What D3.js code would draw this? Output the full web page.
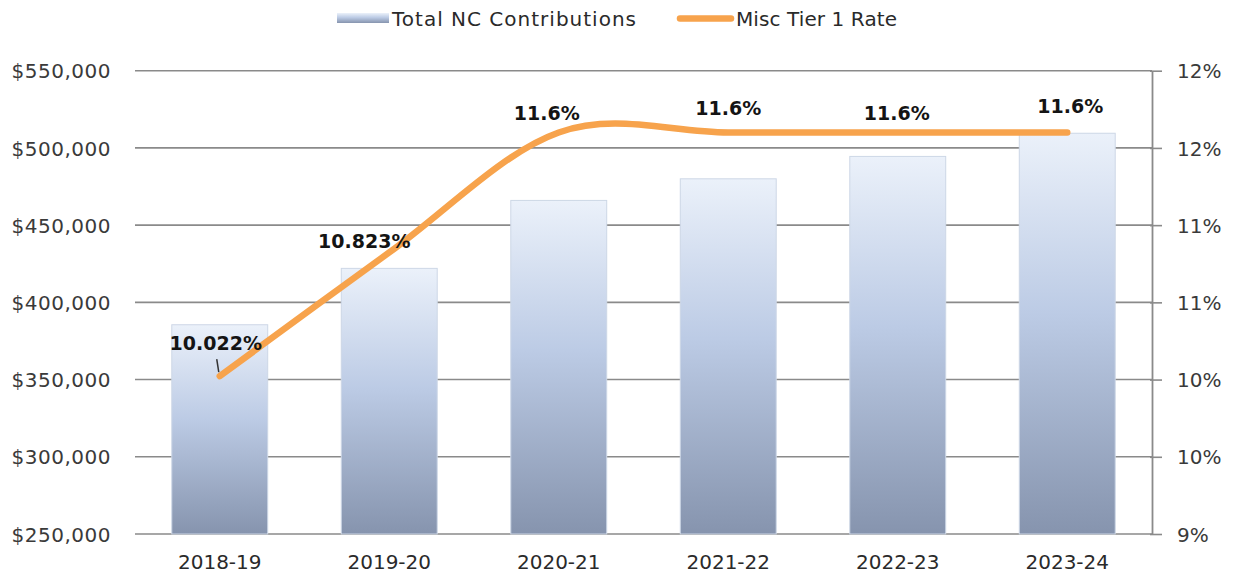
<!DOCTYPE html>
<html>
<head>
<meta charset="utf-8">
<script src="https://cdn.jsdelivr.net/npm/d3@7"></script>
<style>
  html, body { margin: 0; padding: 0; background: #ffffff; }
  svg { display: block; }
</style>
</head>
<body>
<svg id="chart" width="1233" height="583"></svg>
<script>
// ---- data ----
const categories = ["2018-19", "2019-20", "2020-21", "2021-22", "2022-23", "2023-24"];
const contributions = [385500, 422000, 466000, 480000, 494500, 509500];
const tierRate = [10.022, 10.823, 11.6, 11.6, 11.6, 11.6];
const rateLabels = ["10.022%", "10.823%", "11.6%", "11.6%", "11.6%", "11.6%"];
const leftTicks = [250000, 300000, 350000, 400000, 450000, 500000, 550000];
const rightTicks = [9, 9.5, 10, 10.5, 11, 11.5, 12];
const seriesNames = ["Total NC Contributions", "Misc Tier 1 Rate"];
// label nudges (px) relative to each point
const labelDx = [-4, -25, -12, 0, -1, 3];
const labelDy = [-26, -4, -12, -17, -12, -19];

const svg = d3.select("#chart");
const plot = { left: 135, right: 1152, top: 70.7, bottom: 534 };

const x = d3.scaleBand().domain(categories)
  .range([plot.left, plot.right]).paddingInner(0.434).paddingOuter(0.217);
const yL = d3.scaleLinear().domain([250000, 550000]).range([plot.bottom, plot.top]);
const yR = d3.scaleLinear().domain([9, 12]).range([plot.bottom, plot.top]);

const defs = svg.append("defs");
const grad = defs.append("linearGradient").attr("id", "barGrad")
  .attr("x1", 0).attr("y1", 0).attr("x2", 0).attr("y2", 1);
grad.append("stop").attr("offset", "0%").attr("stop-color", "#ebf1fa");
grad.append("stop").attr("offset", "45%").attr("stop-color", "#bccbe5");
grad.append("stop").attr("offset", "100%").attr("stop-color", "#8694ae");

const font = "'DejaVu Sans', Verdana, sans-serif";

// gridlines
const grid = svg.append("g");
grid.selectAll("line").data(leftTicks).join("line")
  .attr("x1", plot.left).attr("x2", plot.right)
  .attr("y1", d => yL(d)).attr("y2", d => yL(d))
  .attr("stroke", "#8a8a8a").attr("stroke-width", 1.6);

// bars
svg.append("g").selectAll("rect").data(contributions).join("rect")
  .attr("x", (d, i) => x(categories[i]))
  .attr("width", x.bandwidth())
  .attr("y", d => yL(d))
  .attr("height", d => yL(250000) - yL(d))
  .attr("fill", "url(#barGrad)")
  .attr("stroke", "#cdd7e6").attr("stroke-width", 1);

// left axis labels
const leftAxis = d3.axisLeft(yL).tickValues(leftTicks)
  .tickFormat(d => "$" + d3.format(",")(d)).tickSize(0).tickPadding(24);
svg.append("g").attr("transform", `translate(${plot.left},0)`).call(leftAxis)
  .call(g => g.select(".domain").remove())
  .call(g => g.selectAll("text").attr("font-family", font).attr("font-size", 20)
    .attr("fill", "#3a3a3a").attr("dy", "0.36em").attr("letter-spacing", 0.5));

// right axis
const rightAxis = d3.axisRight(yR).tickValues(rightTicks)
  .tickFormat(d => d3.format(".0f")(Math.round(d)) + "%").tickSize(10).tickPadding(15).tickSizeOuter(0);
svg.append("g").attr("transform", `translate(${plot.right},0)`).call(rightAxis)
  .call(g => g.select(".domain").attr("stroke", "#8a8a8a").attr("stroke-width", 1.8))
  .call(g => g.selectAll(".tick line").attr("stroke", "#8a8a8a").attr("stroke-width", 1.6).attr("x1", -2))
  .call(g => g.selectAll("text").attr("font-family", font).attr("font-size", 20)
    .attr("fill", "#3a3a3a").attr("dy", "0.36em"));

// bottom axis labels
const bottomAxis = d3.axisBottom(x).tickSize(0).tickPadding(28);
svg.append("g").attr("transform", `translate(0,${plot.bottom})`).call(bottomAxis)
  .call(g => g.select(".domain").remove())
  .call(g => g.selectAll("text").attr("font-family", font).attr("font-size", 20)
    .attr("fill", "#2a2a2a").attr("dy", "0.36em"));

// line
const cx = i => x(categories[i]) + x.bandwidth() / 2;
const line = d3.line().x((d, i) => cx(i)).y(d => yR(d)).curve(d3.curveCardinal.tension(0));
svg.append("path").datum(tierRate)
  .attr("d", line).attr("fill", "none")
  .attr("stroke", "#f7a34c").attr("stroke-width", 6.5)
  .attr("stroke-linecap", "round").attr("stroke-linejoin", "round");

// leader line for first label
svg.append("line")
  .attr("x1", cx(0) - 3).attr("y1", yR(tierRate[0]) - 17)
  .attr("x2", cx(0) - 1).attr("y2", yR(tierRate[0]) - 4)
  .attr("stroke", "#333").attr("stroke-width", 1.5);

// data labels
svg.append("g").selectAll("text").data(tierRate).join("text")
  .attr("x", (d, i) => cx(i) + labelDx[i])
  .attr("y", (d, i) => yR(d) + labelDy[i])
  .attr("text-anchor", "middle")
  .attr("font-family", font).attr("font-size", 19).attr("font-weight", "bold")
  .attr("fill", "#141414")
  .text((d, i) => rateLabels[i]);

// legend
const lg = svg.append("g");
lg.append("rect").attr("x", 337).attr("y", 13).attr("width", 52).attr("height", 10)
  .attr("fill", "url(#barGrad)");
lg.append("text").attr("x", 392).attr("y", 26).attr("font-family", font).attr("font-size", 20)
  .attr("fill", "#2a2a2a").attr("textLength", 244).attr("lengthAdjust", "spacing").text(seriesNames[0]);
lg.append("line").attr("x1", 680).attr("x2", 731).attr("y1", 18.5).attr("y2", 18.5)
  .attr("stroke", "#f7a34c").attr("stroke-width", 6.5).attr("stroke-linecap", "round");
lg.append("text").attr("x", 736).attr("y", 26).attr("font-family", font).attr("font-size", 20)
  .attr("fill", "#2a2a2a").attr("textLength", 161).attr("lengthAdjust", "spacing").text(seriesNames[1]);
</script>
</body>
</html>
